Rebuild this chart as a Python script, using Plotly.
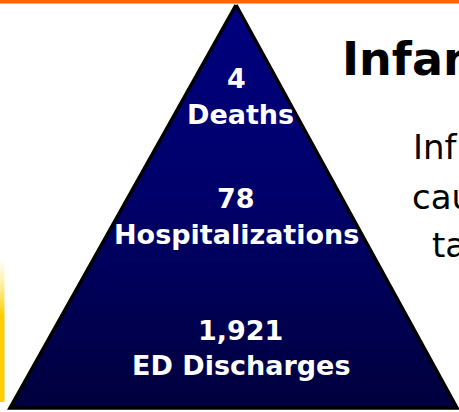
import plotly.graph_objects as go

# Data
levels = ["Deaths", "Hospitalizations", "ED Discharges"]
counts = ["4", "78", "1,921"]
title_text = "Infan"
body_lines = ["Inf", "cau", "ta"]

W, H = 459, 412

fig = go.Figure()

# Pyramid (triangle) with vertical gradient (top navy -> bottom darker)
tri_x = [236, 457, 10, 236]
tri_y = [5, 408, 408, 5]
fig.add_trace(go.Scatter(
    x=tri_x, y=tri_y, mode="lines", fill="toself",
    line=dict(color="black", width=3.5),
    fillgradient=dict(type="vertical",
                      colorscale=[[0, "#00003e"], [0.5, "#000068"], [1, "#000080"]]),
    hoverinfo="skip", showlegend=False,
))

# Yellow strip at the left edge (fades out toward the top)
fig.add_trace(go.Scatter(
    x=[0, 4.5, 4.5, 0, 0], y=[258, 258, 402, 402, 258], mode="lines", fill="toself",
    line=dict(width=0, color="rgba(0,0,0,0)"),
    fillgradient=dict(type="vertical",
                      colorscale=[[0, "#FFCC00"], [0.6, "#FFCC00"], [1, "rgba(255,230,80,0)"]]),
    hoverinfo="skip", showlegend=False,
))

# Labels
num_y = [78, 198, 330]
lab_y = [114, 234, 365]
num_x = [236, 236, 240]
lab_x = [240, 236.5, 241]
for i in range(len(levels)):
    fig.add_annotation(x=num_x[i], y=num_y[i], text=f"<b>{counts[i]}</b>", showarrow=False,
                       font=dict(family="DejaVu Sans", size=27, color="white"),
                       xanchor="center", yanchor="middle")
    fig.add_annotation(x=lab_x[i], y=lab_y[i], text=f"<b>{levels[i]}</b>", showarrow=False,
                       font=dict(family="DejaVu Sans", size=27, color="white"),
                       xanchor="center", yanchor="middle")

# Right-side title and text
fig.add_annotation(x=340, y=59, text=f"<b>{title_text}</b>", showarrow=False,
                   font=dict(family="DejaVu Sans", size=46, color="black"),
                   xanchor="left", yanchor="middle")
body_x = [411, 410, 430]
body_y = [147, 197, 245]
for t, bx, by in zip(body_lines, body_x, body_y):
    fig.add_annotation(x=bx, y=by, text=t, showarrow=False,
                       font=dict(family="DejaVu Sans", size=34, color="black"),
                       xanchor="left", yanchor="middle")

# Orange band at top
fig.add_shape(type="rect", x0=0, x1=W, y0=0, y1=3.5, fillcolor="#FF6600",
              line=dict(width=0), layer="above")

fig.update_layout(
    width=W, height=H,
    margin=dict(l=0, r=0, t=0, b=0),
    paper_bgcolor="white", plot_bgcolor="white",
    xaxis=dict(range=[0, W], visible=False, fixedrange=True),
    yaxis=dict(range=[H, 0], visible=False, fixedrange=True),
    showlegend=False,
)

fig.write_html("out.html", config={"displayModeBar": False, "staticPlot": True},
               post_script="document.body.style.margin='0';document.body.style.overflow='hidden';")
